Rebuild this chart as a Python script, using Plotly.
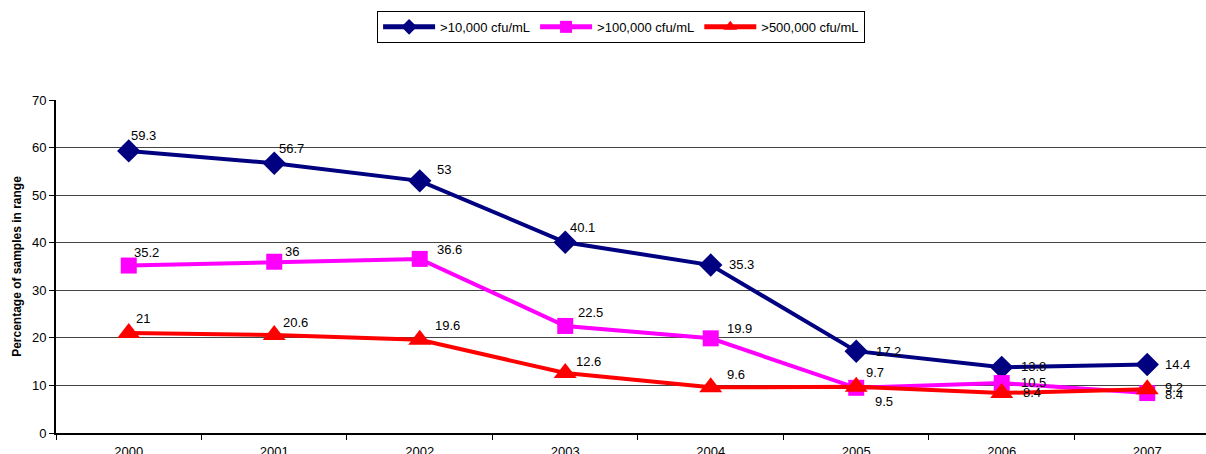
import plotly.graph_objects as go

# Years on the category axis
years = ["2000", "2001", "2002", "2003", "2004", "2005", "2006", "2007"]

# Percentage of samples above each count threshold
over_10k = [59.3, 56.7, 53, 40.1, 35.3, 17.2, 13.8, 14.4]
over_100k = [35.2, 36, 36.6, 22.5, 19.9, 9.5, 10.5, 8.4]
over_500k = [21, 20.6, 19.6, 12.6, 9.6, 9.7, 8.4, 9.2]

series = [
    (">10,000 cfu/mL", over_10k, "#000080", "diamond", 18),
    (">100,000 cfu/mL", over_100k, "#FF00FF", "square", 16),
    (">500,000 cfu/mL", over_500k, "#FF0000", "triangle-up", 20),
]

# Pixel offsets (right, up) of each value label from its point
label_offsets = [
    [(0, 15), (3, 15), (15, 11), (3, 15), (16, 1), (18, 0), (17, 1), (16, 0)],
    [(3, 13), (9, 10), (15, 9), (11, 13), (14, 10), (17, -14), (17, 1), (16, -1)],
    [(5, 15), (7, 13), (13, 14), (9, 12), (14, 13), (8, 14), (19, 1), (16, 2)],
]

FONT = "Liberation Sans, Arial, sans-serif"

fig = go.Figure()
for name, vals, color, symbol, size in series:
    fig.add_trace(go.Scatter(
        x=years, y=vals, name=name, mode="lines+markers",
        line=dict(color=color, width=4),
        marker=dict(color=color, symbol=symbol, size=size),
    ))

# Value labels, placed by category index on the category axis
annotations = []
for (name, vals, color, symbol, size), offs in zip(series, label_offsets):
    for i, (v, (dx, dy)) in enumerate(zip(vals, offs)):
        annotations.append(dict(
            x=i, y=v, xref="x", yref="y", text=f"{v:g}", showarrow=False,
            xanchor="left", yanchor="middle", xshift=dx, yshift=dy,
            font=dict(family=FONT, size=13, color="#000"),
        ))

fig.update_layout(
    width=1206, height=454,
    margin=dict(l=56, r=0, t=100, b=21),
    paper_bgcolor="white", plot_bgcolor="white",
    font=dict(family=FONT, size=12, color="#000"),
    annotations=annotations,
    showlegend=True,
    legend=dict(
        orientation="h", xref="container", yref="container",
        x=0.515, xanchor="center", y=0.976, yanchor="top",
        bordercolor="#000", borderwidth=1, bgcolor="white",
        font=dict(size=13), itemsizing="constant", itemwidth=52,
        tracegroupgap=0, traceorder="normal",
    ),
    xaxis=dict(
        type="category", range=[-0.5, 7.404], automargin=False,
        tickson="boundaries", ticks="outside", ticklen=5, tickcolor="#000", tickwidth=1,
        showline=True, linecolor="#000", linewidth=2,
        showgrid=False, zeroline=False, ticklabelstandoff=5,
        tickfont=dict(size=13),
    ),
    yaxis=dict(
        range=[0, 70], dtick=10, ticks="outside", ticklen=5, tickcolor="#000",
        showline=True, linecolor="#000", linewidth=2, automargin=False,
        showgrid=True, gridcolor="#444", gridwidth=1, zeroline=False,
        tickfont=dict(size=13),
        title=dict(text="<b>Percentage of samples in range</b>", font=dict(size=12), standoff=8),
    ),
)

fig.write_html("out.html")
